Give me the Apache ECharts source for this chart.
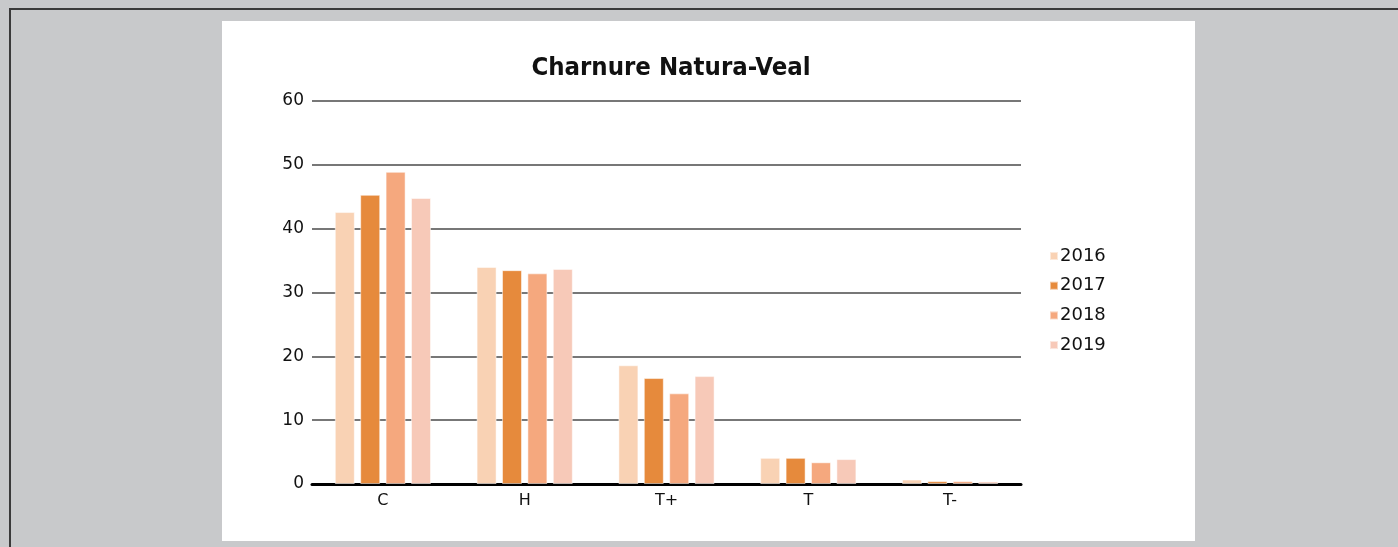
<!DOCTYPE html>
<html>
<head>
<meta charset="utf-8">
<script src="https://cdn.jsdelivr.net/npm/echarts@6/dist/echarts.min.js"></script>
<style>
html,body{margin:0;padding:0;width:1398px;height:547px;overflow:hidden;background:#c8c9cb;}
#frame{position:absolute;left:9px;top:8px;right:0;bottom:0;border-top:2px solid #3a3a3a;border-left:2px solid #3a3a3a;}
#chart{position:absolute;left:222px;top:21px;width:973px;height:520px;background:#fff;}
</style>
</head>
<body>
<div id="frame"></div>
<div id="chart"></div>
<script>
const categories = ['C', 'H', 'T+', 'T', 'T-'];
const years = ['2016', '2017', '2018', '2019'];
const v2016 = [42.6, 34.0, 18.6, 4.1, 0.7];
const v2017 = [45.3, 33.5, 16.6, 4.1, 0.45];
const v2018 = [48.9, 33.0, 14.2, 3.4, 0.45];
const v2019 = [44.8, 33.7, 16.9, 3.9, 0.4];
const yTicks = [0, 10, 20, 30, 40, 50, 60];
const colors = ['#f9d2b4', '#e68a3c', '#f5a87e', '#f7c9b8'];
const seriesValues = [v2016, v2017, v2018, v2019];
const titleText = 'Charnure Natura-Veal';

const chart = echarts.init(document.getElementById('chart'));
chart.setOption({
  animation: false,
  backgroundColor: '#fff',
  graphic: [{
    type: 'text',
    x: 449, y: 47,
    style: {
      text: titleText,
      textAlign: 'center', textVerticalAlign: 'middle',
      font: 'bold 25.5px "DejaVu Sans Condensed", "DejaVu Sans", sans-serif',
      fill: '#111'
    }
  }],
  legend: {
    orient: 'vertical',
    left: 822, top: 221,
    itemWidth: 8, itemHeight: 8, itemGap: 11.7,
    icon: 'rect',
    data: years,
    textStyle: {fontFamily: 'DejaVu Sans', fontSize: 18, color: '#111', padding: [0,0,0,-3]}
  },
  grid: {left: 90, top: 80, width: 709, height: 383, containLabel: false},
  xAxis: {
    type: 'category',
    data: categories,
    axisLine: {lineStyle: {color: '#000', width: 3}},
    axisTick: {show: false},
    axisLabel: {fontFamily: 'DejaVu Sans', fontSize: 16, color: '#111', margin: 9}
  },
  yAxis: {
    type: 'value',
    min: yTicks[0], max: yTicks[yTicks.length - 1], interval: 10,
    axisLine: {show: false},
    axisTick: {show: false},
    axisLabel: {fontFamily: 'DejaVu Sans', fontSize: 17, color: '#111', margin: 8},
    splitLine: {lineStyle: {color: '#4a4a4a', width: 1.5}}
  },
  series: years.map((y, i) => ({
    name: y,
    type: 'bar',
    data: seriesValues[i],
    barWidth: 20,
    barGap: '27%',
    itemStyle: {color: colors[i], borderColor: 'rgba(255,255,255,0.5)', borderWidth: 1}
  }))
});
</script>
</body>
</html>
